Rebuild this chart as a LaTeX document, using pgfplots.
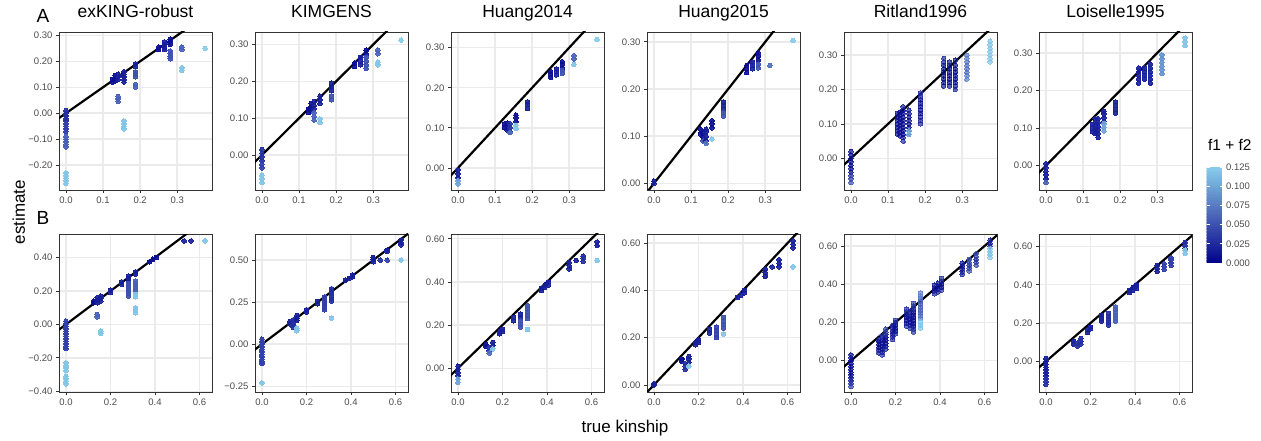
\documentclass[border=0pt]{standalone}
\usepackage{pgfplots}
\pgfplotsset{compat=1.18}
\usepackage{fontspec}
\setmainfont{Liberation Sans}
\definecolor{gridgray}{HTML}{EBEBEB}
\pgfplotsset{
 colormap={gg}{rgb255=(0,0,139) rgb255=(75,100,185) rgb255=(135,206,235)},
 kp/.style={scale only axis, width=153pt, height=158pt, anchor=south west,
   axis line style={draw=black!80, line width=0.9pt},
   grid=major, major grid style={draw=gridgray, line width=1.5pt},
   tick align=outside, tick pos=left, major tick length=3pt,
   every tick/.style={draw=black!80, line width=0.8pt},
   tick label style={font=\fontsize{9.5}{10}\selectfont, text=black!70},
   colormap name=gg, point meta min=0, point meta max=0.125,
   title style={at={(0.5,1)}, anchor=base, yshift=8pt, font=\fontsize{17.5}{18}\selectfont}},
 toprow/.style={kp, xmin=-0.01875, xmax=0.39375, xtick={0,0.1,0.2,0.3}, xticklabels={0.0,0.1,0.2,0.3}},
 botrow/.style={kp, xmin=-0.03125, xmax=0.65625, xtick={0,0.2,0.4,0.6}, xticklabels={0.0,0.2,0.4,0.6}},
 pts/.style={scatter, only marks, mark=*, mark size=2.3pt, scatter src=explicit,
   scatter/use mapped color={draw=mapped color, fill=mapped color}, mark options={line width=0pt, opacity=0.92}},
 ptsr/.style={pts, mark options={line width=0pt, opacity=0.7}},
 idline/.style={black, line width=2.2pt, no marks}
}
\begin{document}
\begin{tikzpicture}
\path[use as bounding box] (0,0) rectangle (1261pt,441pt);
% ---------------- top row ----------------
\begin{axis}[toprow, at={(59pt,251pt)}, ymin=-0.296, ymax=0.313, title={exKING-robust},
  ytick={-0.2,-0.1,0,0.1,0.2,0.3}, yticklabels={−0.20,−0.10,0.00,0.10,0.20,0.30}]
\addplot[pts] table[row sep=\\, meta=f]{x y f\\
0 0.01 0.03\\0 0 0.03\\0 -0.01 0.03\\0 -0.02 0.03\\0 -0.03 0.03\\0 -0.04 0.04\\0 -0.05 0.04\\0 -0.06 0.04\\0 -0.07 0.04\\
0 -0.09 0.06\\0 -0.1 0.06\\0 -0.11 0.06\\0 -0.12 0.06\\0 -0.13 0.06\\
0 -0.23 0.12\\0 -0.24 0.12\\0 -0.25 0.12\\0 -0.26 0.12\\0 -0.27 0.12\\
0.125 0.12 0.01\\0.125 0.13 0.01\\
0.1328 0.125 0.01\\0.1328 0.135 0.01\\0.1328 0.145 0.01\\
0.1406 0.13 0.02\\0.1406 0.14 0.02\\0.1406 0.15 0.02\\0.1406 0.045 0.06\\0.1406 0.055 0.06\\0.1406 0.065 0.06\\
0.1563 0.12 0.02\\0.1563 0.13 0.02\\0.1563 0.14 0.02\\0.1563 0.15 0.02\\0.1563 0.16 0.02\\
0.1563 -0.03 0.12\\0.1563 -0.04 0.12\\0.1563 -0.05 0.12\\0.1563 -0.06 0.12\\
0.1875 0.18 0.02\\0.1875 0.19 0.02\\0.1875 0.14 0.05\\0.1875 0.15 0.05\\0.1875 0.16 0.05\\0.1875 0.1 0.06\\0.1875 0.11 0.06\\
0.25 0.245 0.01\\0.25 0.255 0.01\\
0.2656 0.245 0.02\\0.2656 0.255 0.02\\0.2656 0.265 0.02\\0.2656 0.275 0.02\\
0.2813 0.265 0.01\\0.2813 0.275 0.01\\0.2813 0.285 0.01\\0.2813 0.21 0.05\\0.2813 0.22 0.05\\0.2813 0.23 0.05\\0.2813 0.24 0.05\\
0.3125 0.245 0.06\\0.3125 0.255 0.06\\0.3125 0.165 0.12\\0.3125 0.175 0.12\\
0.375 0.25 0.125\\
};
\addplot[idline] coordinates {(-0.5,-0.5) (0.8,0.8)};
\end{axis}
\begin{axis}[toprow, at={(255pt,251pt)}, ymin=-0.095, ymax=0.334, title={KIMGENS},
  ytick={0,0.1,0.2,0.3}, yticklabels={0.00,0.10,0.20,0.30}]
\addplot[pts] table[row sep=\\, meta=f]{x y f\\
0 0.015 0.03\\0 0.005 0.03\\0 -0.005 0.03\\0 -0.015 0.03\\0 -0.025 0.04\\0 -0.035 0.04\\0 -0.055 0.12\\0 -0.065 0.12\\0 -0.075 0.12\\
0.125 0.115 0.01\\0.125 0.125 0.01\\
0.1328 0.12 0.01\\0.1328 0.13 0.01\\0.1328 0.14 0.01\\
0.1406 0.125 0.02\\0.1406 0.135 0.02\\0.1406 0.145 0.02\\0.1406 0.095 0.06\\0.1406 0.105 0.06\\0.1406 0.115 0.06\\
0.1563 0.14 0.02\\0.1563 0.15 0.02\\0.1563 0.16 0.02\\0.1563 0.088 0.12\\0.1563 0.098 0.12\\
0.1875 0.175 0.02\\0.1875 0.185 0.02\\0.1875 0.195 0.02\\0.1875 0.15 0.05\\0.1875 0.16 0.05\\
0.25 0.24 0.01\\0.25 0.25 0.01\\
0.2656 0.245 0.02\\0.2656 0.255 0.02\\0.2656 0.265 0.02\\
0.2813 0.275 0.01\\0.2813 0.285 0.01\\0.2813 0.265 0.05\\0.2813 0.255 0.05\\0.2813 0.245 0.05\\0.2813 0.235 0.05\\
0.3125 0.275 0.06\\0.3125 0.285 0.06\\0.3125 0.245 0.12\\0.3125 0.252 0.12\\
0.375 0.312 0.125\\
};
\addplot[idline] coordinates {(-0.5,-0.5) (0.8,0.8)};
\end{axis}
\begin{axis}[toprow, at={(451pt,251pt)}, ymin=-0.055, ymax=0.339, title={Huang2014},
  ytick={0,0.1,0.2,0.3}, yticklabels={0.00,0.10,0.20,0.30}]
\addplot[pts] table[row sep=\\, meta=f]{x y f\\
0 -0.005 0.02\\0 -0.015 0.02\\0 -0.025 0.02\\0 -0.032 0.1\\0 -0.04 0.1\\
0.125 0.1 0.01\\0.125 0.11 0.01\\
0.1328 0.095 0.01\\0.1328 0.105 0.01\\0.1328 0.112 0.01\\
0.1406 0.09 0.03\\0.1406 0.1 0.03\\0.1406 0.11 0.03\\0.1406 0.088 0.07\\
0.1563 0.115 0.01\\0.1563 0.125 0.01\\0.1563 0.132 0.01\\0.1563 0.098 0.12\\0.1563 0.106 0.12\\
0.1875 0.148 0.02\\0.1875 0.158 0.02\\0.1875 0.165 0.02\\
0.25 0.226 0.01\\0.25 0.234 0.01\\0.25 0.24 0.01\\
0.2656 0.232 0.02\\0.2656 0.24 0.02\\0.2656 0.247 0.02\\
0.2813 0.25 0.01\\0.2813 0.258 0.01\\0.2813 0.265 0.01\\0.2813 0.236 0.05\\0.2813 0.243 0.05\\
0.3125 0.272 0.06\\0.3125 0.28 0.06\\0.3125 0.258 0.12\\
0.375 0.32 0.125\\
};
\addplot[idline] coordinates {(-0.5,-0.5) (0.8,0.8)};
\end{axis}
\begin{axis}[toprow, at={(647pt,251pt)}, ymin=-0.014, ymax=0.321, title={Huang2015},
  ytick={0,0.1,0.2,0.3}, yticklabels={0.00,0.10,0.20,0.30}]
\addplot[pts] table[row sep=\\, meta=f]{x y f\\
0 0 0.02\\0 0.005 0.02\\
0.125 0.105 0.01\\0.125 0.115 0.01\\
0.1328 0.097 0.01\\0.1328 0.107 0.01\\0.1328 0.09 0.05\\
0.1406 0.09 0.02\\0.1406 0.1 0.02\\0.1406 0.11 0.02\\0.1406 0.115 0.02\\0.1406 0.085 0.07\\
0.1563 0.118 0.01\\0.1563 0.126 0.01\\0.1563 0.133 0.01\\0.1563 0.094 0.12\\
0.1875 0.158 0.02\\0.1875 0.165 0.02\\0.1875 0.172 0.02\\0.1875 0.143 0.05\\0.1875 0.15 0.05\\
0.25 0.235 0.01\\0.25 0.243 0.01\\0.25 0.25 0.01\\
0.2656 0.243 0.02\\0.2656 0.25 0.02\\0.2656 0.258 0.02\\
0.2813 0.262 0.01\\0.2813 0.27 0.01\\0.2813 0.277 0.01\\0.2813 0.245 0.05\\0.2813 0.253 0.05\\
0.3125 0.25 0.07\\
0.375 0.303 0.125\\
};
\addplot[idline] coordinates {(-0.5,-0.5) (0.8,0.8)};
\end{axis}
\begin{axis}[toprow, at={(844pt,251pt)}, ymin=-0.092, ymax=0.367, title={Ritland1996},
  ytick={0,0.1,0.2,0.3}, yticklabels={0.00,0.10,0.20,0.30}]
\addplot[ptsr] table[row sep=\\, meta=f]{x y f\\
0 0.02 0.01\\0 0.01 0.01\\0 0 0.01\\0 -0.01 0.01\\0 -0.02 0.01\\0 -0.03 0.01\\0 -0.04 0.01\\0 -0.05 0.03\\0 -0.06 0.04\\0 -0.07 0.05\\
0.125 0.07 0.01\\0.125 0.08 0.01\\0.125 0.09 0.01\\0.125 0.1 0.01\\0.125 0.11 0.01\\0.125 0.12 0.01\\0.125 0.13 0.01\\
0.1328 0.065 0.01\\0.1328 0.075 0.01\\0.1328 0.085 0.01\\0.1328 0.095 0.01\\0.1328 0.105 0.01\\0.1328 0.115 0.01\\0.1328 0.125 0.01\\0.1328 0.135 0.01\\
0.1406 0.05 0.03\\0.1406 0.06 0.02\\0.1406 0.07 0.01\\0.1406 0.08 0.01\\0.1406 0.09 0.01\\0.1406 0.1 0.01\\0.1406 0.11 0.01\\0.1406 0.12 0.01\\0.1406 0.13 0.01\\0.1406 0.14 0.01\\0.1406 0.15 0.02\\
0.1563 0.07 0.02\\0.1563 0.08 0.02\\0.1563 0.09 0.01\\0.1563 0.1 0.01\\0.1563 0.11 0.01\\0.1563 0.12 0.01\\0.1563 0.13 0.01\\0.1563 0.14 0.02\\0.1563 0.07 0.11\\0.1563 0.08 0.11\\
0.1875 0.1 0.03\\0.1875 0.11 0.02\\0.1875 0.12 0.02\\0.1875 0.13 0.01\\0.1875 0.14 0.01\\0.1875 0.15 0.01\\0.1875 0.16 0.01\\0.1875 0.17 0.01\\0.1875 0.18 0.02\\0.1875 0.19 0.03\\
0.25 0.21 0.02\\0.25 0.22 0.01\\0.25 0.23 0.01\\0.25 0.24 0.01\\0.25 0.25 0.01\\0.25 0.26 0.01\\0.25 0.27 0.01\\0.25 0.28 0.02\\0.25 0.29 0.03\\
0.2656 0.21 0.02\\0.2656 0.22 0.01\\0.2656 0.23 0.01\\0.2656 0.24 0.01\\0.2656 0.25 0.01\\0.2656 0.26 0.01\\0.2656 0.27 0.01\\0.2656 0.28 0.02\\
0.2813 0.2 0.03\\0.2813 0.21 0.02\\0.2813 0.22 0.01\\0.2813 0.23 0.01\\0.2813 0.24 0.01\\0.2813 0.25 0.01\\0.2813 0.26 0.01\\0.2813 0.27 0.01\\0.2813 0.285 0.02\\
0.3125 0.23 0.08\\0.3125 0.24 0.08\\0.3125 0.25 0.07\\0.3125 0.26 0.07\\0.3125 0.27 0.07\\0.3125 0.28 0.07\\0.3125 0.29 0.08\\0.3125 0.3 0.08\\
0.375 0.28 0.12\\0.375 0.29 0.12\\0.375 0.3 0.12\\0.375 0.31 0.12\\0.375 0.32 0.12\\0.375 0.33 0.12\\0.375 0.34 0.12\\
};
\addplot[idline] coordinates {(-0.5,-0.5) (0.8,0.8)};
\end{axis}
\begin{axis}[toprow, at={(1039pt,251pt)}, ymin=-0.065, ymax=0.356, title={Loiselle1995},
  ytick={0,0.1,0.2,0.3}, yticklabels={0.00,0.10,0.20,0.30},
  colorbar sampled, colorbar style={at={(1198pt,178pt)}, anchor=south west, scale only axis,
    samples=64, width=16pt, height=96pt, axis line style={draw=none}, xtick=\empty,
    ytick={0,0.025,0.05,0.075,0.1,0.125}, yticklabels={0.000,0.025,0.050,0.075,0.100,0.125},
    yticklabel pos=right, tick align=inside, ytick pos=both, major tick length=3pt,
    every tick/.style={draw=white, line width=0.8pt}, grid=none,
    tick label style={font=\fontsize{9.5}{10}\selectfont, text=black!70},
    title={f1 + f2}, title style={at={(0,1)}, anchor=base west, xshift=-2pt, yshift=10pt, font=\fontsize{15.5}{16}\selectfont}}]
\addplot[pts] table[row sep=\\, meta=f]{x y f\\
0 0.005 0.02\\0 -0.005 0.02\\0 -0.015 0.02\\0 -0.025 0.02\\0 -0.035 0.02\\0 -0.045 0.06\\
0.125 0.09 0.02\\0.125 0.1 0.02\\0.125 0.11 0.02\\
0.1328 0.085 0.02\\0.1328 0.095 0.02\\0.1328 0.105 0.02\\0.1328 0.115 0.02\\0.1328 0.125 0.02\\
0.1406 0.075 0.02\\0.1406 0.085 0.02\\0.1406 0.095 0.02\\0.1406 0.105 0.02\\0.1406 0.115 0.02\\0.1406 0.125 0.02\\
0.1563 0.118 0.02\\0.1563 0.128 0.02\\0.1563 0.138 0.02\\0.1563 0.145 0.02\\0.1563 0.092 0.1\\0.1563 0.102 0.1\\0.1563 0.112 0.1\\
0.1875 0.14 0.02\\0.1875 0.15 0.02\\0.1875 0.16 0.02\\0.1875 0.17 0.02\\
0.25 0.22 0.02\\0.25 0.23 0.02\\0.25 0.24 0.02\\0.25 0.25 0.02\\0.25 0.26 0.02\\
0.2656 0.23 0.02\\0.2656 0.24 0.02\\0.2656 0.25 0.02\\0.2656 0.26 0.02\\
0.2813 0.22 0.02\\0.2813 0.23 0.02\\0.2813 0.24 0.02\\0.2813 0.25 0.02\\0.2813 0.26 0.02\\0.2813 0.27 0.02\\
0.3125 0.245 0.09\\0.3125 0.255 0.09\\0.3125 0.265 0.09\\0.3125 0.275 0.09\\0.3125 0.285 0.09\\0.3125 0.295 0.09\\
0.375 0.32 0.12\\0.375 0.33 0.12\\0.375 0.34 0.12\\
};
\addplot[idline] coordinates {(-0.5,-0.5) (0.8,0.8)};
\end{axis}
% ---------------- bottom row ----------------
\begin{axis}[botrow, at={(59pt,49pt)}, ymin=-0.404, ymax=0.541,
  ytick={-0.4,-0.2,0,0.2,0.4}, yticklabels={−0.40,−0.20,0.00,0.20,0.40}]
\addplot[pts] table[row sep=\\, meta=f]{x y f\\
0 0.02 0.04\\0 0.005 0.04\\0 -0.01 0.04\\0 -0.025 0.04\\0 -0.04 0.04\\0 -0.055 0.04\\0 -0.07 0.04\\0 -0.085 0.04\\0 -0.1 0.04\\0 -0.115 0.04\\0 -0.13 0.04\\0 -0.145 0.04\\
0 -0.23 0.12\\0 -0.245 0.12\\0 -0.26 0.12\\0 -0.275 0.12\\0 -0.31 0.12\\0 -0.325 0.12\\0 -0.34 0.12\\0 -0.355 0.12\\
0.125 0.13 0.01\\0.125 0.14 0.01\\
0.1406 0.13 0.02\\0.1406 0.145 0.02\\0.1406 0.16 0.02\\0.1406 0.045 0.06\\0.1406 0.06 0.06\\
0.1563 0.14 0.02\\0.1563 0.155 0.02\\0.1563 0.17 0.02\\0.1563 -0.04 0.12\\0.1563 -0.055 0.12\\
0.2 0.19 0.02\\0.2 0.205 0.02\\
0.25 0.24 0.02\\0.25 0.255 0.02\\
0.2813 0.29 0.02\\0.2813 0.275 0.02\\0.2813 0.26 0.02\\0.2813 0.245 0.05\\0.2813 0.23 0.05\\0.2813 0.215 0.05\\0.2813 0.2 0.05\\0.2813 0.185 0.05\\0.2813 0.17 0.05\\
0.3125 0.3 0.02\\0.3125 0.315 0.02\\0.3125 0.26 0.06\\0.3125 0.245 0.06\\0.3125 0.23 0.06\\0.3125 0.215 0.06\\0.3125 0.2 0.06\\
0.3125 0.165 0.12\\0.3125 0.18 0.12\\0.3125 0.07 0.12\\0.3125 0.085 0.12\\0.3125 0.1 0.12\\
0.375 0.375 0.01\\0.3906 0.39 0.01\\0.4063 0.4 0.01\\
0.5313 0.5 0.02\\0.5625 0.5 0.02\\0.625 0.5 0.12\\
};
\addplot[idline] coordinates {(-0.5,-0.5) (0.8,0.8)};
\end{axis}
\begin{axis}[botrow, at={(255pt,49pt)}, ymin=-0.284, ymax=0.655,
  ytick={-0.25,0,0.25,0.5}, yticklabels={−0.25,0.00,0.25,0.50}]
\addplot[pts] table[row sep=\\, meta=f]{x y f\\
0 0.03 0.04\\0 0.015 0.04\\0 0 0.04\\0 -0.015 0.04\\0 -0.03 0.04\\0 -0.045 0.04\\0 -0.06 0.04\\0 -0.075 0.04\\0 -0.09 0.04\\0 -0.105 0.04\\0 -0.115 0.04\\0 -0.23 0.12\\
0.125 0.12 0.02\\0.125 0.135 0.02\\
0.1406 0.1 0.03\\0.1406 0.115 0.03\\0.1406 0.13 0.03\\0.1406 0.145 0.03\\
0.1563 0.14 0.02\\0.1563 0.155 0.02\\0.1563 0.17 0.02\\0.1563 0.08 0.12\\0.1563 0.095 0.12\\
0.2 0.19 0.02\\0.2 0.205 0.02\\
0.25 0.24 0.02\\0.25 0.255 0.02\\
0.2813 0.28 0.04\\0.2813 0.265 0.04\\0.2813 0.25 0.04\\0.2813 0.235 0.04\\0.2813 0.22 0.04\\0.2813 0.205 0.04\\
0.3125 0.33 0.03\\0.3125 0.315 0.03\\0.3125 0.3 0.03\\0.3125 0.285 0.03\\0.3125 0.27 0.03\\0.3125 0.255 0.03\\0.3125 0.155 0.12\\
0.375 0.38 0.02\\0.3906 0.39 0.02\\0.4063 0.4 0.02\\0.4063 0.41 0.02\\
0.5 0.49 0.02\\0.5 0.505 0.02\\0.5 0.515 0.02\\
0.5313 0.5 0.03\\0.5625 0.5 0.04\\0.5625 0.55 0.02\\0.5625 0.56 0.02\\
0.625 0.59 0.02\\0.625 0.605 0.02\\0.625 0.62 0.02\\0.625 0.5 0.12\\
};
\addplot[idline] coordinates {(-0.5,-0.5) (0.8,0.8)};
\end{axis}
\begin{axis}[botrow, at={(451pt,49pt)}, ymin=-0.11, ymax=0.622,
  ytick={0,0.2,0.4,0.6}, yticklabels={0.00,0.20,0.40,0.60}]
\addplot[pts] table[row sep=\\, meta=f]{x y f\\
0 0.01 0.02\\0 -0.005 0.02\\0 -0.02 0.02\\0 -0.035 0.02\\0 -0.05 0.1\\0 -0.065 0.1\\
0.125 0.1 0.01\\0.125 0.11 0.01\\
0.1406 0.08 0.03\\0.1406 0.095 0.03\\0.1406 0.07 0.07\\
0.1563 0.105 0.02\\0.1563 0.12 0.02\\0.1563 0.09 0.12\\
0.1875 0.16 0.02\\0.1875 0.17 0.02\\0.2 0.17 0.02\\0.2 0.18 0.02\\
0.25 0.22 0.02\\0.25 0.235 0.02\\
0.2813 0.25 0.02\\0.2813 0.235 0.02\\0.2813 0.22 0.05\\0.2813 0.205 0.05\\0.2813 0.19 0.05\\
0.3125 0.29 0.05\\0.3125 0.275 0.05\\0.3125 0.26 0.05\\0.3125 0.245 0.05\\0.3125 0.23 0.05\\0.3125 0.18 0.12\\
0.375 0.36 0.02\\0.375 0.37 0.02\\0.3906 0.375 0.02\\0.3906 0.385 0.02\\0.4063 0.385 0.02\\0.4063 0.4 0.02\\
0.5 0.46 0.02\\0.5 0.475 0.02\\0.5 0.49 0.02\\
0.5313 0.5 0.02\\
0.5625 0.495 0.03\\0.5625 0.51 0.03\\0.5625 0.52 0.03\\
0.625 0.57 0.02\\0.625 0.585 0.02\\0.625 0.5 0.12\\
};
\addplot[idline] coordinates {(-0.5,-0.5) (0.8,0.8)};
\end{axis}
\begin{axis}[botrow, at={(647pt,49pt)}, ymin=-0.03, ymax=0.639,
  ytick={0,0.2,0.4,0.6}, yticklabels={0.00,0.20,0.40,0.60}]
\addplot[pts] table[row sep=\\, meta=f]{x y f\\
0 0 0.02\\0 0.005 0.02\\
0.125 0.1 0.01\\0.125 0.11 0.01\\
0.1406 0.065 0.03\\0.1406 0.08 0.03\\0.1406 0.09 0.03\\
0.1563 0.095 0.02\\0.1563 0.11 0.02\\0.1563 0.12 0.02\\0.1563 0.08 0.12\\
0.1875 0.17 0.02\\0.1875 0.18 0.02\\0.2 0.18 0.02\\0.2 0.19 0.02\\
0.25 0.22 0.02\\0.25 0.235 0.02\\
0.2813 0.2 0.04\\0.2813 0.215 0.04\\0.2813 0.23 0.04\\0.2813 0.245 0.04\\
0.3125 0.24 0.05\\0.3125 0.255 0.05\\0.3125 0.27 0.05\\0.3125 0.285 0.05\\0.3125 0.215 0.12\\
0.375 0.37 0.02\\0.3906 0.38 0.02\\0.4063 0.39 0.02\\0.4063 0.4 0.02\\
0.5 0.46 0.02\\0.5 0.475 0.02\\0.5 0.49 0.02\\
0.5313 0.5 0.02\\0.5625 0.5 0.02\\0.5625 0.515 0.02\\0.5625 0.53 0.02\\
0.625 0.58 0.02\\0.625 0.595 0.02\\0.625 0.61 0.02\\0.625 0.5 0.12\\
};
\addplot[idline] coordinates {(-0.5,-0.5) (0.8,0.8)};
\end{axis}
\begin{axis}[botrow, at={(844pt,49pt)}, ymin=-0.164, ymax=0.663,
  ytick={0,0.2,0.4,0.6}, yticklabels={0.00,0.20,0.40,0.60}]
\addplot[ptsr] table[row sep=\\, meta=f]{x y f\\
0 0.03 0.02\\0 0.015 0.01\\0 0 0.01\\0 -0.015 0.01\\0 -0.03 0.01\\0 -0.045 0.01\\0 -0.06 0.01\\0 -0.075 0.01\\0 -0.09 0.01\\0 -0.105 0.02\\0 -0.12 0.03\\0 -0.135 0.04\\
0.125 0.04 0.03\\0.125 0.055 0.02\\0.125 0.07 0.01\\0.125 0.085 0.01\\0.125 0.1 0.01\\0.125 0.11 0.02\\
0.1406 0.03 0.03\\0.1406 0.045 0.02\\0.1406 0.06 0.01\\0.1406 0.075 0.01\\0.1406 0.09 0.01\\0.1406 0.105 0.01\\0.1406 0.12 0.02\\0.1406 0.13 0.03\\
0.1563 0.06 0.03\\0.1563 0.075 0.02\\0.1563 0.09 0.01\\0.1563 0.105 0.01\\0.1563 0.12 0.01\\0.1563 0.135 0.02\\0.1563 0.15 0.03\\0.1563 0.165 0.04\\
0.1875 0.11 0.03\\0.1875 0.125 0.02\\0.1875 0.14 0.01\\0.1875 0.155 0.01\\0.1875 0.17 0.02\\0.1875 0.185 0.03\\
0.2 0.14 0.03\\0.2 0.155 0.01\\0.2 0.17 0.01\\0.2 0.185 0.01\\0.2 0.2 0.02\\0.2 0.21 0.03\\
0.25 0.18 0.03\\0.25 0.195 0.02\\0.25 0.21 0.01\\0.25 0.225 0.01\\0.25 0.24 0.01\\0.25 0.255 0.02\\0.25 0.27 0.03\\
0.2656 0.17 0.03\\0.2656 0.185 0.02\\0.2656 0.2 0.01\\0.2656 0.215 0.01\\0.2656 0.23 0.01\\0.2656 0.245 0.02\\0.2656 0.26 0.03\\
0.2813 0.15 0.04\\0.2813 0.165 0.03\\0.2813 0.18 0.02\\0.2813 0.195 0.01\\0.2813 0.21 0.01\\0.2813 0.225 0.01\\0.2813 0.24 0.01\\0.2813 0.255 0.01\\0.2813 0.27 0.02\\0.2813 0.285 0.03\\0.2813 0.3 0.04\\
0.3125 0.22 0.08\\0.3125 0.235 0.07\\0.3125 0.25 0.06\\0.3125 0.265 0.06\\0.3125 0.28 0.06\\0.3125 0.295 0.06\\0.3125 0.31 0.06\\0.3125 0.325 0.07\\0.3125 0.34 0.08\\0.3125 0.355 0.08\\0.3125 0.17 0.12\\0.3125 0.185 0.12\\0.3125 0.2 0.12\\
0.375 0.35 0.03\\0.375 0.365 0.02\\0.375 0.38 0.01\\0.375 0.395 0.02\\0.3906 0.36 0.02\\0.3906 0.375 0.01\\0.3906 0.39 0.01\\0.3906 0.405 0.02\\
0.4063 0.37 0.03\\0.4063 0.385 0.01\\0.4063 0.4 0.01\\0.4063 0.415 0.02\\0.4063 0.43 0.03\\
0.5 0.45 0.03\\0.5 0.465 0.02\\0.5 0.48 0.01\\0.5 0.495 0.01\\0.5 0.51 0.02\\
0.5313 0.47 0.05\\0.5313 0.485 0.04\\0.5313 0.5 0.03\\0.5313 0.515 0.04\\0.5313 0.53 0.05\\
0.5625 0.5 0.05\\0.5625 0.515 0.04\\0.5625 0.53 0.03\\0.5625 0.545 0.04\\0.5625 0.56 0.05\\
0.625 0.6 0.03\\0.625 0.615 0.02\\0.625 0.63 0.02\\0.625 0.54 0.12\\0.625 0.555 0.12\\0.625 0.57 0.12\\0.625 0.585 0.12\\
};
\addplot[idline] coordinates {(-0.5,-0.5) (0.8,0.8)};
\end{axis}
\begin{axis}[botrow, at={(1039pt,49pt)}, ymin=-0.16, ymax=0.665,
  ytick={0,0.2,0.4,0.6}, yticklabels={0.00,0.20,0.40,0.60}]
\addplot[pts] table[row sep=\\, meta=f]{x y f\\
0 0.015 0.02\\0 0 0.02\\0 -0.015 0.02\\0 -0.03 0.02\\0 -0.045 0.02\\0 -0.06 0.02\\0 -0.075 0.02\\0 -0.09 0.03\\0 -0.105 0.03\\0 -0.12 0.03\\
0.125 0.09 0.02\\0.125 0.105 0.02\\
0.1406 0.08 0.03\\0.1406 0.095 0.03\\
0.1563 0.09 0.03\\0.1563 0.105 0.03\\0.1563 0.12 0.03\\
0.1875 0.15 0.02\\0.1875 0.165 0.02\\0.2 0.17 0.02\\0.2 0.18 0.02\\
0.25 0.21 0.02\\0.25 0.225 0.02\\0.25 0.24 0.02\\
0.2813 0.19 0.03\\0.2813 0.205 0.03\\0.2813 0.22 0.03\\0.2813 0.235 0.03\\0.2813 0.25 0.03\\
0.3125 0.21 0.06\\0.3125 0.225 0.06\\0.3125 0.24 0.06\\0.3125 0.255 0.06\\0.3125 0.27 0.06\\0.3125 0.285 0.06\\
0.375 0.36 0.02\\0.375 0.37 0.02\\0.3906 0.37 0.02\\0.3906 0.385 0.02\\0.4063 0.38 0.02\\0.4063 0.395 0.02\\0.4063 0.4 0.02\\
0.5 0.47 0.02\\0.5 0.485 0.02\\0.5 0.5 0.02\\
0.5313 0.48 0.04\\0.5313 0.495 0.04\\0.5313 0.51 0.04\\
0.5625 0.5 0.04\\0.5625 0.515 0.04\\0.5625 0.53 0.04\\0.5625 0.54 0.04\\
0.625 0.59 0.03\\0.625 0.605 0.03\\0.625 0.62 0.03\\0.625 0.565 0.12\\0.625 0.58 0.12\\
};
\addplot[idline] coordinates {(-0.5,-0.5) (0.8,0.8)};
\end{axis}
% ---------------- labels ----------------
\node[anchor=base west, font=\fontsize{19}{20}\selectfont] at (33pt,418pt) {A};
\node[anchor=base west, font=\fontsize{19}{20}\selectfont] at (33pt,216pt) {B};
\node[rotate=90, anchor=base, font=\fontsize{17}{18}\selectfont] at (25pt,229pt) {estimate};
\node[anchor=base, font=\fontsize{17}{18}\selectfont] at (625pt,8pt) {true kinship};
\end{tikzpicture}
\end{document}
